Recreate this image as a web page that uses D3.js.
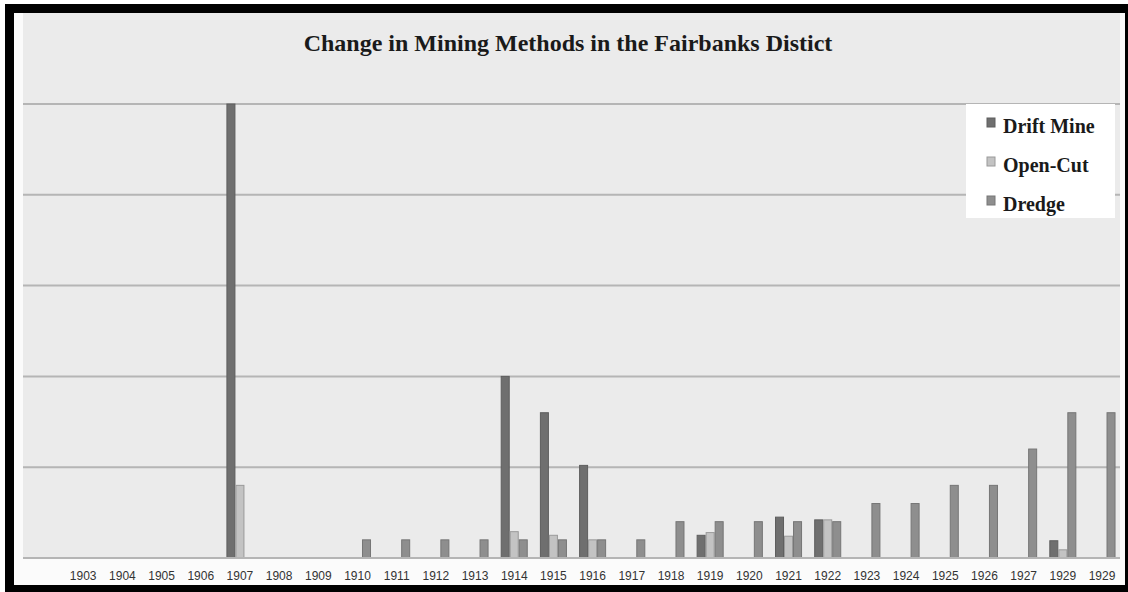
<!DOCTYPE html>
<html>
<head>
<meta charset="utf-8">
<script src="https://d3js.org/d3.v7.min.js"></script>
<style>
  body { margin: 0; background: #ffffff; }
  .tick text { font-family: "Liberation Sans", Arial, sans-serif; }
</style>
</head>
<body>
<div class="chart"></div>
<script>
// Data (note the source labels 1928 as "1929")
var years = ["1903", "1904", "1905", "1906", "1907", "1908", "1909", "1910", "1911", "1912",
             "1913", "1914", "1915", "1916", "1917", "1918", "1919", "1920", "1921", "1922",
             "1923", "1924", "1925", "1926", "1927", "1929", "1929"];
var driftMine = [0, 0, 0, 0, 50, 0, 0, 0, 0, 0, 0, 20, 16, 10.2, 0, 0, 2.5, 0, 4.5, 4.2, 0, 0, 0, 0, 0, 1.9, 0];
var openCut   = [0, 0, 0, 0, 8, 0, 0, 0, 0, 0, 0, 2.9, 2.5, 2, 0, 0, 2.8, 0, 2.4, 4.2, 0, 0, 0, 0, 0, 0.9, 0];
var dredge    = [0, 0, 0, 0, 0, 0, 0, 2, 2, 2, 2, 2, 2, 2, 2, 4, 4, 4, 4, 4, 6, 6, 8, 8, 12, 16, 16];
var seriesNames = ["Drift Mine", "Open-Cut", "Dredge"];
var gridValues = [10, 20, 30, 40, 50];

var svgWidth = 1128,
    svgHeight = 592;

var svg = d3.select(".chart")
    .append("svg")
    .attr("width", svgWidth)
    .attr("height", svgHeight);

// frame: black border, white inside, grey plot background
svg.append("rect")
    .attr("x", 5).attr("y", 4)
    .attr("width", svgWidth - 5).attr("height", svgHeight - 4)
    .attr("fill", "#000");
svg.append("rect")
    .attr("x", 14).attr("y", 13)
    .attr("width", 1111).attr("height", 572)
    .attr("fill", "#fbfbfb");
svg.append("rect")
    .attr("x", 23).attr("y", 13)
    .attr("width", 1097).attr("height", 545)
    .attr("fill", "#ebebeb");

var x0 = d3.scaleBand()
    .domain(d3.range(years.length))
    .range([63.6, 1121.6])
    .paddingInner(0.31)
    .paddingOuter(0.155);

var x1 = d3.scaleBand()
    .domain(seriesNames)
    .range([0, x0.bandwidth()]);

var y = d3.scaleLinear()
    .domain([0, 50])
    .range([558, 104]);

var color = d3.scaleOrdinal()
    .domain(seriesNames)
    .range(["#6f6f6f", "#c3c3c3", "#8e8e8e"]);
var stroke = d3.scaleOrdinal()
    .domain(seriesNames)
    .range(["#5e5e5e", "#9a9a9a", "#767676"]);

// gridlines
svg.append("g")
    .selectAll("line")
    .data(gridValues)
    .enter().append("line")
    .attr("x1", 23)
    .attr("x2", 1120)
    .attr("y1", function(d) { return y(d); })
    .attr("y2", function(d) { return y(d); })
    .attr("stroke", "#b5b5b5")
    .attr("stroke-width", 2);

// one row per year
var rows = years.map(function(yr, i) {
    return {i: i, values: [
        {key: "Drift Mine", value: driftMine[i]},
        {key: "Open-Cut", value: openCut[i]},
        {key: "Dredge", value: dredge[i]}
    ]};
});

var groups = svg.append("g")
    .selectAll("g")
    .data(rows)
    .enter().append("g")
    .attr("transform", function(d) { return "translate(" + x0(d.i) + ",0)"; });

groups.selectAll("rect")
    .data(function(d) { return d.values.filter(function(v) { return v.value > 0; }); })
    .enter().append("rect")
    .attr("x", function(d) { return x1(d.key) + 0.5; })
    .attr("y", function(d) { return y(d.value); })
    .attr("width", x1.bandwidth() - 1)
    .attr("height", function(d) { return y(0) - y(d.value); })
    .attr("fill", function(d) { return color(d.key); })
    .attr("stroke", function(d) { return stroke(d.key); })
    .attr("stroke-width", 1);

// x axis
var xAxis = d3.axisBottom(x0)
    .tickSize(0)
    .tickPadding(13)
    .tickFormat(function(i) { return years[i]; });

var axisG = svg.append("g")
    .attr("transform", "translate(0," + y(0) + ")")
    .call(xAxis);
axisG.select(".domain").remove();
axisG.selectAll("text")
    .attr("fill", "#333")
    .style("font-size", "12px");

// baseline
svg.append("line")
    .attr("x1", 23).attr("x2", 1120)
    .attr("y1", y(0)).attr("y2", y(0))
    .attr("stroke", "#b5b5b5")
    .attr("stroke-width", 2);

// title
svg.append("text")
    .attr("x", 568)
    .attr("y", 51)
    .attr("text-anchor", "middle")
    .style("font-family", "'Liberation Serif', 'DejaVu Serif', serif")
    .style("font-weight", "bold")
    .style("font-size", "24px")
    .attr("fill", "#1a1a1a")
    .text("Change in Mining Methods in the Fairbanks Distict");

// legend
var legend = svg.append("g");
legend.append("rect")
    .attr("x", 966).attr("y", 104)
    .attr("width", 149).attr("height", 114)
    .attr("fill", "#ffffff");

var items = legend.selectAll("g.item")
    .data(seriesNames)
    .enter().append("g")
    .attr("class", "item")
    .attr("transform", function(d, i) { return "translate(987," + (118 + i * 39) + ")"; });

items.append("rect")
    .attr("width", 8).attr("height", 9)
    .attr("fill", function(d) { return color(d); })
    .attr("stroke", function(d) { return stroke(d); });

items.append("text")
    .attr("x", 16)
    .attr("y", 15)
    .style("font-family", "'Liberation Serif', 'DejaVu Serif', serif")
    .style("font-weight", "bold")
    .style("font-size", "20px")
    .attr("fill", "#1a1a1a")
    .text(function(d) { return d; });
</script>
</body>
</html>
